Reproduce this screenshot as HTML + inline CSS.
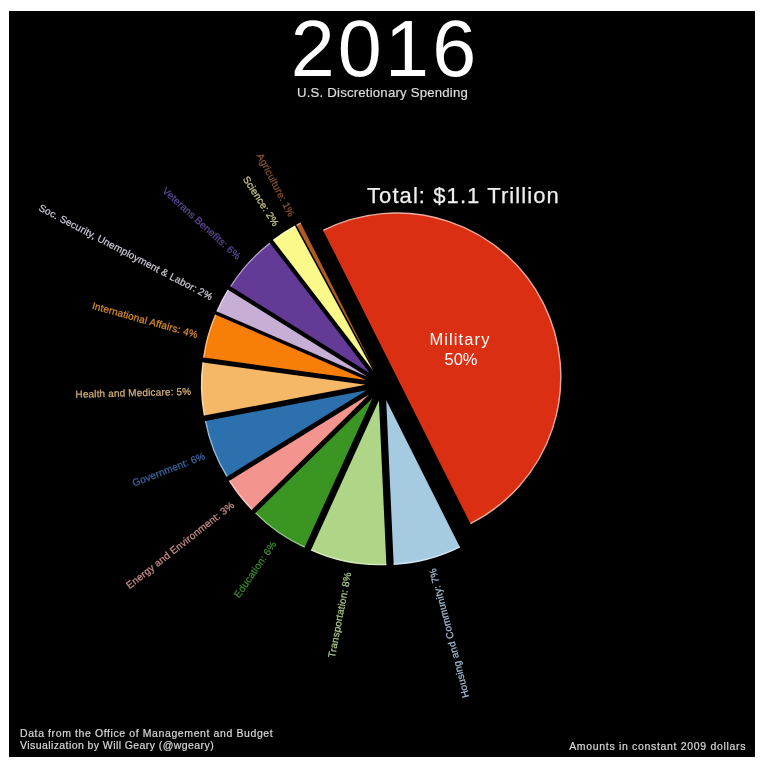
<!DOCTYPE html>
<html><head><meta charset="utf-8"><style>
html,body{margin:0;padding:0;background:#fff;width:762px;height:760px;overflow:hidden}
svg{position:absolute;left:0;top:0;filter:blur(0.35px)}
text{font-family:"Liberation Sans",sans-serif}
.lab{font-size:10px;letter-spacing:0.15px;stroke-width:0.25px}
.ft{font-size:10.5px;fill:#d8d8d8;stroke:#d8d8d8;stroke-width:0.2px}
</style></head><body>
<svg width="762" height="760" viewBox="0 0 762 760">
<rect x="9" y="11" width="746" height="746" fill="#000"/>
<text x="385" y="75.6" text-anchor="middle" fill="#fff" font-size="79" letter-spacing="3.2">2016</text>
<text x="382.5" y="96.8" text-anchor="middle" fill="#ddd" stroke="#ddd" stroke-width="0.2" font-size="13.2" letter-spacing="0.2">U.S. Discretionary Spending</text>
<text x="367" y="202.5" fill="#eee" stroke="#eee" stroke-width="0.25" font-size="22" letter-spacing="1.08">Total: $1.1 Trillion</text>
<path d="M396.80,377.00 L323.21,230.43 A164.0,164.0 0 0 1 470.38,523.56 Z" fill="#da2f12"/><path d="M323.21,230.43 A164.0,164.0 0 0 1 470.38,523.56" fill="none" stroke="#f0aca0" stroke-width="1.4"/><path d="M386.22,400.37 L459.80,546.93 A164.0,164.0 0 0 1 393.66,564.20 Z" fill="#a6cbe0"/><path d="M459.80,546.93 A164.0,164.0 0 0 1 393.66,564.20" fill="none" stroke="#d2e5f0" stroke-width="1.4"/><path d="M378.92,400.60 L386.36,564.43 A164.0,164.0 0 0 1 311.02,549.88 Z" fill="#afd687"/><path d="M386.36,564.43 A164.0,164.0 0 0 1 311.02,549.88" fill="none" stroke="#d7eac3" stroke-width="1.4"/><path d="M372.59,397.92 L304.69,547.20 A164.0,164.0 0 0 1 255.62,512.87 Z" fill="#3a9523"/><path d="M304.69,547.20 A164.0,164.0 0 0 1 255.62,512.87" fill="none" stroke="#9cca91" stroke-width="1.4"/><path d="M369.06,394.58 L252.09,509.52 A164.0,164.0 0 0 1 229.45,480.63 Z" fill="#f4948f"/><path d="M252.09,509.52 A164.0,164.0 0 0 1 229.45,480.63" fill="none" stroke="#facac7" stroke-width="1.4"/><path d="M366.67,390.37 L227.06,476.43 A164.0,164.0 0 0 1 205.56,421.02 Z" fill="#2d70ae"/><path d="M227.06,476.43 A164.0,164.0 0 0 1 205.56,421.02" fill="none" stroke="#96b8d6" stroke-width="1.4"/><path d="M365.56,384.82 L204.44,415.47 A164.0,164.0 0 0 1 203.09,362.42 Z" fill="#f5b866"/><path d="M204.44,415.47 A164.0,164.0 0 0 1 203.09,362.42" fill="none" stroke="#fadcb2" stroke-width="1.4"/><path d="M366.16,379.95 L203.70,357.55 A164.0,164.0 0 0 1 215.72,314.66 Z" fill="#f77f08"/><path d="M203.70,357.55 A164.0,164.0 0 0 1 215.72,314.66" fill="none" stroke="#fbbf84" stroke-width="1.4"/><path d="M367.44,376.73 L217.00,311.44 A164.0,164.0 0 0 1 228.30,289.92 Z" fill="#c6aed4"/><path d="M217.00,311.44 A164.0,164.0 0 0 1 228.30,289.92" fill="none" stroke="#e2d6ea" stroke-width="1.4"/><path d="M369.84,373.31 L230.69,286.50 A164.0,164.0 0 0 1 270.07,243.14 Z" fill="#633b97"/><path d="M230.69,286.50 A164.0,164.0 0 0 1 270.07,243.14" fill="none" stroke="#b19dcb" stroke-width="1.4"/><path d="M373.09,370.55 L273.32,240.39 A164.0,164.0 0 0 1 295.21,226.22 Z" fill="#fbf98a"/><path d="M273.32,240.39 A164.0,164.0 0 0 1 295.21,226.22" fill="none" stroke="#fdfcc4" stroke-width="1.4"/><path d="M374.43,369.76 L296.55,225.43 A164.0,164.0 0 0 1 300.84,223.20 Z" fill="#b05a28"/><path d="M296.55,225.43 A164.0,164.0 0 0 1 300.84,223.20" fill="none" stroke="#d8ac94" stroke-width="1.4"/>
<text x="0" y="2.0" transform="translate(430.29,569.21) rotate(-104.63)" text-anchor="end" dominant-baseline="central" fill="#a0bcd2" stroke="#a0bcd2" class="lab">Housing and Community: 7%</text><text x="0" y="2.0" transform="translate(345.83,571.94) rotate(-79.07)" text-anchor="end" dominant-baseline="central" fill="#aac884" stroke="#aac884" class="lab">Transportation: 8%</text><text x="0" y="2.0" transform="translate(272.55,540.90) rotate(-55.02)" text-anchor="end" dominant-baseline="central" fill="#3c8c2c" stroke="#3c8c2c" class="lab">Education: 6%</text><text x="0" y="2.0" transform="translate(231.69,502.19) rotate(-38.07)" text-anchor="end" dominant-baseline="central" fill="#c88a86" stroke="#c88a86" class="lab">Energy and Environment: 3%</text><text x="0" y="2.0" transform="translate(203.99,453.50) rotate(-21.21)" text-anchor="end" dominant-baseline="central" fill="#3a68a2" stroke="#3a68a2" class="lab">Government: 6%</text><text x="0" y="2.0" transform="translate(191.11,389.27) rotate(-1.46)" text-anchor="end" dominant-baseline="central" fill="#d4b07a" stroke="#d4b07a" class="lab">Health and Medicare: 5%</text><text x="0" y="2.0" transform="translate(198.14,332.86) rotate(15.66)" text-anchor="end" dominant-baseline="central" fill="#d88a30" stroke="#d88a30" class="lab">International Affairs: 4%</text><text x="0" y="2.0" transform="translate(212.96,295.59) rotate(27.71)" text-anchor="end" dominant-baseline="central" fill="#cac4d2" stroke="#cac4d2" class="lab">Soc. Security, Unemployment &amp; Labor: 2%</text><text x="0" y="2.0" transform="translate(240.66,255.99) rotate(42.25)" text-anchor="end" dominant-baseline="central" fill="#5f4896" stroke="#5f4896" class="lab">Veterans Benefits: 6%</text><text x="0" y="2.0" transform="translate(278.28,224.05) rotate(57.09)" text-anchor="end" dominant-baseline="central" fill="#c4c28c" stroke="#c4c28c" class="lab">Science: 2%</text><text x="0" y="2.0" transform="translate(293.84,214.99) rotate(62.50)" text-anchor="end" dominant-baseline="central" fill="#8a5232" stroke="#8a5232" class="lab">Agriculture: 1%</text>
<text x="460" y="345.2" text-anchor="middle" fill="#fff" font-size="16.5" letter-spacing="1.1">Military</text>
<text x="461" y="364.6" text-anchor="middle" fill="#fff" font-size="16.5">50%</text>
<text x="20" y="736.8" class="ft" letter-spacing="0.6">Data from the Office of Management and Budget</text>
<text x="20" y="749.2" class="ft" letter-spacing="0.42">Visualization by Will Geary (@wgeary)</text>
<text x="746.2" y="750.3" text-anchor="end" class="ft" letter-spacing="0.68">Amounts in constant 2009 dollars</text>
</svg>
</body></html>
